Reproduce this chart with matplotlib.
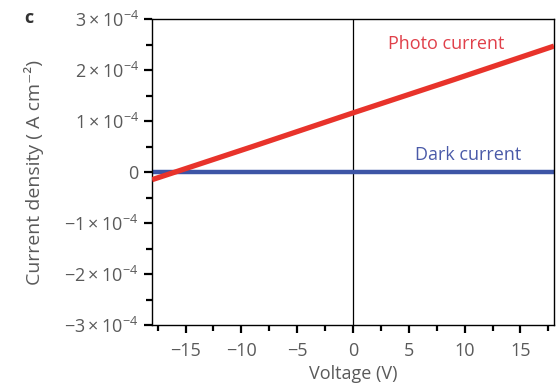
import numpy as np
import matplotlib
matplotlib.use("Agg")
import matplotlib.pyplot as plt
from matplotlib.ticker import MultipleLocator

plt.rcParams['font.family'] = ['Open Sans', 'DejaVu Sans']
plt.rcParams['mathtext.fontset'] = 'custom'
plt.rcParams['mathtext.rm'] = 'Open Sans'
plt.rcParams['mathtext.it'] = 'Open Sans'
plt.rcParams['mathtext.default'] = 'regular'

# values
voltage = [-18, -9, 0, 9, 18]
photo_current = [-0.15e-4, 0.50e-4, 1.16e-4, 1.81e-4, 2.47e-4]
dark_current = [0, 0, 0, 0, 0]

y_ticks = [-3e-4, -2e-4, -1e-4, 0, 1e-4, 2e-4, 3e-4]
y_tick_labels = [r'$-3\times10^{-4}$', r'$-2\times10^{-4}$', r'$-1\times10^{-4}$', '0',
                 r'$1\times10^{-4}$', r'$2\times10^{-4}$', r'$3\times10^{-4}$']
x_ticks = [-15, -10, -5, 0, 5, 10, 15]
x_tick_labels = ['\u221215', '\u221210', '\u22125', '0', '5', '10', '15']

txt = '#5a5a5a'

fig = plt.figure(figsize=(5.57, 3.89), dpi=100)
ax = fig.add_axes([0.273, 0.1645, 0.7216, 0.7865])

ax.axvline(0, color='black', lw=0.9, zorder=1)
ax.plot(voltage, dark_current, color='#3d55a6', lw=3.2, zorder=2, solid_capstyle='butt')
ax.plot(voltage, photo_current, color='#e8332b', lw=3.8, zorder=3, solid_capstyle='butt')

ax.set_xlim(-18, 18)
ax.set_ylim(-3e-4, 3e-4)
ax.set_xticks(x_ticks)
ax.set_xticklabels(x_tick_labels)
ax.set_yticks(y_ticks)
ax.set_yticklabels(y_tick_labels)
ax.xaxis.set_minor_locator(MultipleLocator(2.5))
ax.yaxis.set_minor_locator(MultipleLocator(0.5e-4))

ax.tick_params(which='major', direction='out', length=6, width=1.6, colors='black',
               labelcolor=txt, labelsize=13, top=False, right=False)
ax.tick_params(axis='x', which='major', pad=6)
ax.tick_params(which='minor', direction='out', length=4, width=1.6, colors='black',
               top=False, right=False)
for s in ax.spines.values():
    s.set_linewidth(1.0)

ax.set_xlabel('Voltage (V)', fontsize=13, color=txt, labelpad=4)
ax.set_ylabel('Current density ( A cm\u207b\u00b2)', fontsize=14, color=txt, labelpad=15)

ax.text(0.731, 0.918, 'Photo current', transform=ax.transAxes, color='#e0404a',
        fontsize=13, ha='center', va='center')
ax.text(0.786, 0.556, 'Dark current', transform=ax.transAxes, color='#4a5aa8',
        fontsize=13, ha='center', va='center')

fig.text(0.052, 0.954, 'c', fontsize=13, fontweight='bold', color='#333333', ha='center', va='center')

fig.savefig('out.png', dpi=100)
